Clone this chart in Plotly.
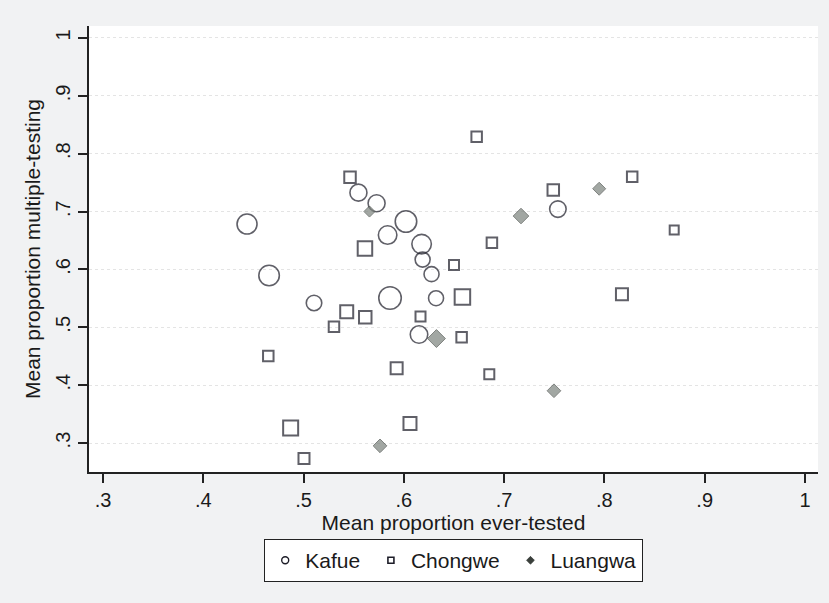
import plotly.graph_objects as go

# ---- data ----
kafue_x = [0.4436, 0.4656, 0.5104, 0.5862, 0.5547, 0.5728, 0.6021, 0.5838, 0.6177, 0.6187, 0.6276, 0.6321, 0.6151, 0.7536]
kafue_y = [0.6785, 0.5895, 0.5421, 0.5507, 0.7327, 0.7144, 0.6828, 0.6595, 0.6438, 0.6170, 0.5919, 0.5503, 0.4875, 0.7043]
kafue_w = [20, 20.5, 15.5, 22.5, 17, 17, 21.5, 18.5, 19.5, 15, 15, 15, 17.5, 16.5]

chongwe_x = [0.5463, 0.5612, 0.5430, 0.5303, 0.5615, 0.6166, 0.4648, 0.5928, 0.4871, 0.5004, 0.6061,
             0.6576, 0.6584, 0.6852, 0.8175, 0.6500, 0.6878, 0.6726, 0.7490, 0.8277, 0.8696]
chongwe_y = [0.7592, 0.6362, 0.5269, 0.5010, 0.5173, 0.5186, 0.4504, 0.4291, 0.3259, 0.2732, 0.3340,
             0.4827, 0.5523, 0.4187, 0.5570, 0.6076, 0.6462, 0.8294, 0.7373, 0.7602, 0.6681]
chongwe_w = [11.5, 14.5, 13, 10.5, 12.5, 10, 10.5, 12, 15, 11, 13,
             10.5, 15.5, 10, 12, 10, 10.5, 10.5, 11.5, 10.5, 9]

luangwa_x = [0.5657, 0.6325, 0.5762, 0.7497, 0.7168, 0.7948]
luangwa_y = [0.7001, 0.4806, 0.2952, 0.3904, 0.6923, 0.7395]
luangwa_w = [8.5, 13.8, 10.5, 10.5, 12, 10]

tick_vals = [0.3, 0.4, 0.5, 0.6, 0.7, 0.8, 0.9, 1.0]
tick_text = [".3", ".4", ".5", ".6", ".7", ".8", ".9", "1"]

FONT = "Liberation Sans, Arial, sans-serif"
INK = "#1d1d28"

fig = go.Figure()

fig.add_trace(go.Scatter(
    x=kafue_x, y=kafue_y, mode="markers", name="Kafue", showlegend=False,
    marker=dict(symbol="circle-open", size=kafue_w, color=INK, line=dict(width=1.6, color=INK)),
))
fig.add_trace(go.Scatter(
    x=chongwe_x, y=chongwe_y, mode="markers", name="Chongwe", showlegend=False,
    marker=dict(symbol="square-open", size=chongwe_w, color=INK, line=dict(width=2, color=INK)),
))
fig.add_trace(go.Scatter(
    x=luangwa_x, y=luangwa_y, mode="markers", name="Luangwa", showlegend=False,
    marker=dict(symbol="diamond", size=luangwa_w, color="#7c837d", line=dict(width=1, color="#4a4f4b")),
))

# legend-only entries with small symbols
fig.add_trace(go.Scatter(x=[None], y=[None], mode="markers", name="Kafue\u00a0",
    marker=dict(symbol="circle-open", size=7, color=INK, line=dict(width=1.4, color=INK))))
fig.add_trace(go.Scatter(x=[None], y=[None], mode="markers", name="Chongwe\u00a0",
    marker=dict(symbol="square-open", size=6, color=INK, line=dict(width=1.6, color=INK))))
fig.add_trace(go.Scatter(x=[None], y=[None], mode="markers", name="Luangwa",
    marker=dict(symbol="diamond", size=6, color="#3a3f3b", line=dict(width=0.8, color="#3a3f3b"))))

fig.update_layout(
    width=829, height=603,
    margin=dict(l=89, r=11, t=26, b=131),
    paper_bgcolor="#f1f2f3",
    plot_bgcolor="white",
    font=dict(family=FONT, size=20, color="#1a1a1a"),
    showlegend=True,
    legend=dict(
        orientation="h", x=0.5, xanchor="center", y=-0.15, yanchor="top",
        bgcolor="white", bordercolor="#222", borderwidth=1.2,
        font=dict(family=FONT, size=21, color="#1a1a1a"),
        itemclick=False,
    ),
)

fig.update_xaxes(
    range=[0.286, 1.013], tickvals=tick_vals, ticktext=tick_text,
    showline=True, linecolor="#222", linewidth=1.5,
    ticks="outside", ticklen=9, tickwidth=1.5, tickcolor="#222",
    showgrid=False, zeroline=False,
    title=dict(text="Mean proportion ever-tested", font=dict(size=21), standoff=4),
    tickfont=dict(size=20),
)
fig.update_yaxes(
    range=[0.25, 1.0207], tickvals=tick_vals, ticktext=tick_text,
    showline=True, linecolor="#222", linewidth=1.5,
    ticks="outside", ticklen=9, tickwidth=1.5, tickcolor="#222",
    tickangle=-90,
    showgrid=True, gridcolor="#e4e4e4", gridwidth=1, griddash="dot",
    zeroline=False,
    title=dict(text="Mean proportion multiple-testing", font=dict(size=21), standoff=6),
    tickfont=dict(size=20),
)

fig.write_html("out.html")
